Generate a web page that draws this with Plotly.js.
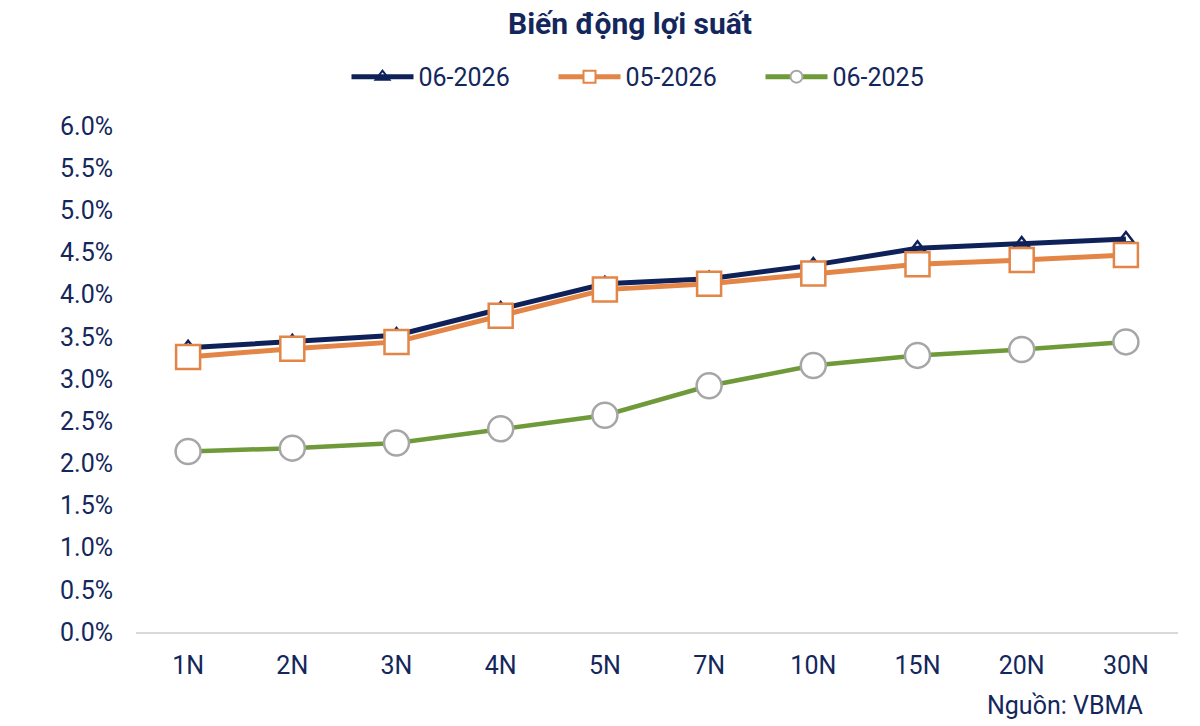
<!DOCTYPE html>
<html>
<head>
<meta charset="utf-8">
<script src="https://cdn.plot.ly/plotly-3.0.1.min.js"></script>
<style>html,body{margin:0;padding:0;background:#fff;}#chart{width:1200px;height:726px;}</style>
</head>
<body>
<div id="chart"></div>
<script>
const categories = ["1N","2N","3N","4N","5N","7N","10N","15N","20N","30N"];
const series0626 = [3.37, 3.44, 3.52, 3.83, 4.13, 4.19, 4.35, 4.55, 4.60, 4.66];
const series0526 = [3.26, 3.36, 3.44, 3.75, 4.06, 4.13, 4.25, 4.36, 4.41, 4.47];
const series0625 = [2.14, 2.18, 2.24, 2.41, 2.57, 2.92, 3.16, 3.28, 3.35, 3.44];
const names = ["06-2026", "05-2026", "06-2025"];
const yTickVals = [0,0.5,1,1.5,2,2.5,3,3.5,4,4.5,5,5.5,6];
const yTickText = ["0.0%","0.5%","1.0%","1.5%","2.0%","2.5%","3.0%","3.5%","4.0%","4.5%","5.0%","5.5%","6.0%"];

const navy = "#0E2158";
const orange = "#E38546";
const green = "#6F9A3A";
const textColor = "#13275C";
const font = "Roboto, 'Noto Sans', Arial, sans-serif";

const traces = [
  {x: categories, y: series0626, name: names[0], type: "scatter", mode: "lines+markers",
   line: {color: navy, width: 5},
   marker: {symbol: "triangle-up-open", size: 14, color: navy, line: {color: navy, width: 2.5}}},
  {x: categories, y: series0526, name: names[1], type: "scatter", mode: "lines+markers",
   line: {color: orange, width: 5},
   marker: {symbol: "square", size: 24, color: "#FFFFFF", line: {color: orange, width: 2.5}}},
  {x: categories, y: series0625, name: names[2], type: "scatter", mode: "lines+markers",
   line: {color: green, width: 4.5},
   marker: {symbol: "circle", size: 25, color: "#FFFFFF", line: {color: "#A6A6A6", width: 2.5}}}
];

const layout = {
  width: 1200, height: 726,
  paper_bgcolor: "#FFFFFF", plot_bgcolor: "#FFFFFF",
  margin: {l: 136, r: 22, t: 126, b: 94, autoexpand: false},
  font: {family: font, color: textColor, size: 25},
  title: {text: "<b>Biến động lợi suất</b>", x: 0.525, xanchor: "center", y: 0.967, yanchor: "middle",
          font: {family: font, size: 30, color: textColor}},
  showlegend: true,
  legend: {orientation: "h", x: 0.5, xref: "paper", xanchor: "center", y: 1.097, yref: "paper", yanchor: "middle",
           itemsizing: "constant", itemwidth: 62, entrywidth: 130, font: {family: font, size: 25, color: textColor},
           traceorder: "normal"},
  xaxis: {type: "category", range: [-0.5, 9.5], showgrid: false, zeroline: false,
          showline: true, linecolor: "#D9D9D9", linewidth: 1.5, ticks: "",
          tickfont: {family: font, size: 25, color: textColor}, ticklabelstandoff: 10, fixedrange: true},
  yaxis: {range: [0, 6], tickvals: yTickVals, ticktext: yTickText, showgrid: false, zeroline: false,
          showline: false, ticks: "", tickfont: {family: font, size: 25, color: textColor},
          ticklabelstandoff: 22, fixedrange: true},
  annotations: [
    {text: "Nguồn: VBMA", xref: "paper", yref: "paper", x: 0.968, xanchor: "right", y: -0.145, yanchor: "middle",
     showarrow: false, font: {family: font, size: 25, color: textColor}}
  ]
};

Plotly.newPlot("chart", traces, layout, {displayModeBar: false, staticPlot: true});
</script>
</body>
</html>
